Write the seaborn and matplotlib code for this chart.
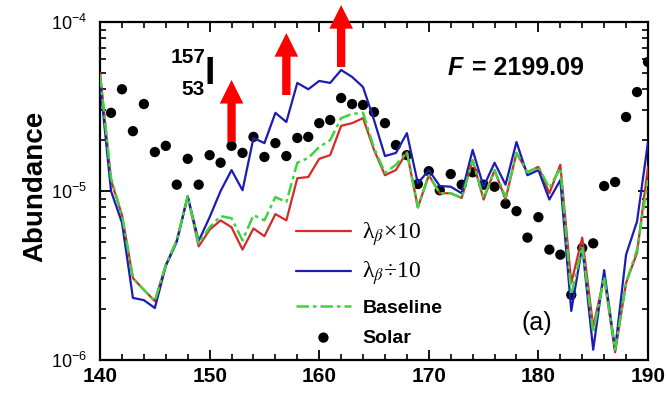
import numpy as np
import pandas as pd
import matplotlib
matplotlib.use("Agg")
import matplotlib.pyplot as plt
import matplotlib.ticker as mticker
import seaborn as sns

# ---------------- data ----------------
mass = list(range(140, 191))
solar_mass = list(range(141, 191))

solar = [2.90e-5, 4.0e-5, 2.26e-5, 3.27e-5, 1.70e-5, 1.85e-5, 1.09e-5, 1.55e-5, 1.09e-5, 1.63e-5,
         1.47e-5, 1.85e-5, 1.68e-5, 2.09e-5, 1.59e-5, 1.92e-5, 1.61e-5, 2.06e-5, 2.09e-5, 2.52e-5,
         2.63e-5, 3.55e-5, 3.27e-5, 3.23e-5, 2.93e-5, 2.52e-5, 1.87e-5, 1.63e-5, 1.10e-5, 1.31e-5,
         1.01e-5, 1.26e-5, 1.09e-5, 1.29e-5, 1.09e-5, 1.06e-5, 8.4e-6, 7.6e-6, 5.3e-6, 7.0e-6,
         4.5e-6, 4.2e-6, 2.43e-6, 4.6e-6, 4.9e-6, 1.07e-5, 1.13e-5, 2.74e-5, 3.85e-5, 5.8e-5]

lam_div10 = [4.4e-5, 1.0e-5, 6.5e-6, 2.33e-6, 2.26e-6, 2.03e-6, 3.6e-6, 5.0e-6, 9.3e-6, 5.06e-6,
             7.0e-6, 1.0e-5, 1.33e-5, 1.01e-5, 2.06e-5, 1.92e-5, 2.90e-5, 2.56e-5, 4.36e-5, 4.0e-5,
             4.48e-5, 4.36e-5, 5.2e-5, 4.73e-5, 4.12e-5, 2.63e-5, 1.61e-5, 1.68e-5, 2.20e-5, 1.11e-5,
             1.33e-5, 1.07e-5, 1.06e-5, 9.7e-6, 1.75e-5, 1.06e-5, 1.47e-5, 1.09e-5, 1.95e-5, 1.24e-5,
             1.33e-5, 8.9e-6, 1.16e-5, 1.95e-6, 4.7e-6, 1.15e-6, 3.4e-6, 1.15e-6, 4.2e-6, 6.6e-6,
             1.95e-5]

baseline = [4.85e-5, 1.19e-5, 7.2e-6, 3.05e-6, 2.6e-6, 2.23e-6, 3.65e-6, 5.1e-6, 9.3e-6, 4.9e-6,
            6.1e-6, 7.1e-6, 6.9e-6, 5.1e-6, 7.2e-6, 6.7e-6, 9.2e-6, 8.6e-6, 1.47e-5, 1.57e-5,
            1.82e-5, 2.0e-5, 2.70e-5, 2.86e-5, 2.90e-5, 1.80e-5, 1.28e-5, 1.43e-5, 1.70e-5, 8.0e-6,
            1.24e-5, 9.7e-6, 9.7e-6, 9.1e-6, 1.52e-5, 9.1e-6, 1.33e-5, 9.2e-6, 1.68e-5, 1.29e-5,
            1.39e-5, 1.04e-5, 1.37e-5, 2.43e-6, 4.7e-6, 1.45e-6, 3.1e-6, 1.15e-6, 2.86e-6, 4.5e-6,
            1.16e-5]

lam_x10 = [5.0e-5, 1.16e-5, 7.2e-6, 3.05e-6, 2.6e-6, 2.23e-6, 3.65e-6, 5.1e-6, 9.3e-6, 4.7e-6,
           5.9e-6, 6.7e-6, 6.1e-6, 4.5e-6, 6.0e-6, 5.4e-6, 7.3e-6, 6.7e-6, 1.19e-5, 1.21e-5,
           1.55e-5, 1.63e-5, 2.43e-5, 2.52e-5, 2.70e-5, 1.75e-5, 1.24e-5, 1.33e-5, 1.70e-5, 8.0e-6,
           1.24e-5, 9.7e-6, 9.7e-6, 9.1e-6, 1.52e-5, 8.9e-6, 1.33e-5, 8.9e-6, 1.68e-5, 1.29e-5,
           1.39e-5, 9.7e-6, 1.43e-5, 2.86e-6, 5.3e-6, 1.57e-6, 3.1e-6, 1.11e-6, 2.86e-6, 4.3e-6,
           1.39e-5]

labels = [r"λ$_{\beta}$×10", r"λ$_{\beta}$÷10", "Baseline", "Solar"]
xticks = [140, 150, 160, 170, 180, 190]
yticks = [1e-6, 1e-5, 1e-4]
ytick_labels = [r"$\mathregular{10^{-6}}$", r"$\mathregular{10^{-5}}$", r"$\mathregular{10^{-4}}$"]
arrow_mass = [152, 157, 162]
arrow_base = [1.95e-5, 3.70e-5, 5.42e-5]
arrow_tip = [4.54e-5, 8.6e-5, 1.26e-4]

# ---------------- style ----------------
sns.set_style("ticks")
plt.rcParams["font.family"] = ["Liberation Sans", "DejaVu Sans"]
plt.rcParams["mathtext.fontset"] = "stix"
plt.rcParams["text.color"] = "black"
plt.rcParams["axes.labelcolor"] = "black"
plt.rcParams["axes.edgecolor"] = "black"

df = pd.DataFrame({"A": mass, "x10": lam_x10, "d10": lam_div10, "base": baseline})
dfs = pd.DataFrame({"A": solar_mass, "solar": solar})

fig, ax = plt.subplots(figsize=(6.67, 3.93), dpi=100)
fig.subplots_adjust(left=0.150, right=0.9715, bottom=0.084, top=0.944)

sns.scatterplot(data=dfs, x="A", y="solar", ax=ax, color="black", s=55,
                edgecolor="none", label=labels[3], zorder=2)
sns.lineplot(data=df, x="A", y="x10", ax=ax, color="#d42a2a", lw=1.6,
             label=labels[0], zorder=3)
sns.lineplot(data=df, x="A", y="d10", ax=ax, color="#1c1cb4", lw=1.6,
             label=labels[1], zorder=4)
sns.lineplot(data=df, x="A", y="base", ax=ax, color="#3fd43f", lw=1.8,
             linestyle=(0, (5, 1.6, 1.4, 1.6)), label=labels[2], zorder=5)

ax.set_yscale("log")
ax.set_xlim(140, 190)
ax.set_ylim(1e-6, 1e-4)
ax.xaxis.set_major_locator(mticker.FixedLocator(xticks))
ax.xaxis.set_minor_locator(mticker.MultipleLocator(2))
ax.set_xticklabels([str(t) for t in xticks], fontweight="bold", fontsize=15)
ax.yaxis.set_major_locator(mticker.FixedLocator(yticks))
ax.yaxis.set_minor_locator(mticker.LogLocator(base=10, subs=np.arange(2, 10), numticks=20))
ax.yaxis.set_minor_formatter(mticker.NullFormatter())
ax.set_yticklabels(ytick_labels, fontsize=13)
ax.tick_params(which="both", direction="in", top=True, right=True,
               bottom=True, left=True, color="black", labelcolor="black")
ax.tick_params(which="major", length=7, width=1.3)
ax.tick_params(which="minor", length=4, width=1.2)
ax.tick_params(axis="x", which="major", pad=5)
ax.tick_params(axis="y", which="major", pad=9)
for s in ax.spines.values():
    s.set_linewidth(1.6)
    s.set_color("black")
ax.set_xlabel("")
ax.set_ylabel("Abundance", fontsize=20, fontweight="bold")
ax.yaxis.set_label_coords(-0.095, 0.515)

# arrows
for a, b, t in zip(arrow_mass, arrow_base, arrow_tip):
    ax.annotate("", xy=(a, t), xytext=(a, b), xycoords="data",
                arrowprops=dict(facecolor="#ff0000", edgecolor="none", width=6,
                                headwidth=17, headlength=17, shrink=0),
                annotation_clip=False, zorder=6)

# annotations
ax.text(0.1916, 0.896, "157", transform=ax.transAxes, ha="right", va="center",
        fontsize=15, fontweight="bold")
ax.text(0.1916, 0.799, "53", transform=ax.transAxes, ha="right", va="center",
        fontsize=15, fontweight="bold")
ax.text(0.2007, 0.845, "I", transform=ax.transAxes, ha="center", va="center",
        fontsize=27, fontweight="bold")
ax.text(0.635, 0.864, "F", transform=ax.transAxes, ha="left", va="center",
        fontsize=18, fontweight="bold", fontstyle="italic")
ax.text(0.679, 0.864, "= 2199.09", transform=ax.transAxes, ha="left", va="center",
        fontsize=18, fontweight="bold")
ax.text(0.770, 0.109, "(a)", transform=ax.transAxes, ha="left", va="center",
        fontsize=18)

# legend
h, l = ax.get_legend_handles_labels()
order = [l.index(x) for x in labels]
leg = ax.legend([h[i] for i in order], [l[i] for i in order], loc="upper left",
                bbox_to_anchor=(0.358, 0.415), frameon=False, fontsize=14,
                handlelength=2.8, handletextpad=0.6, labelspacing=0.62,
                borderpad=0, borderaxespad=0)
for txt in leg.get_texts()[:2]:
    txt.set_fontfamily(["Liberation Serif", "DejaVu Serif"])
    txt.set_fontsize(17)
for txt in leg.get_texts()[2:]:
    txt.set_fontweight("bold")

fig.savefig("out.png", dpi=100)
